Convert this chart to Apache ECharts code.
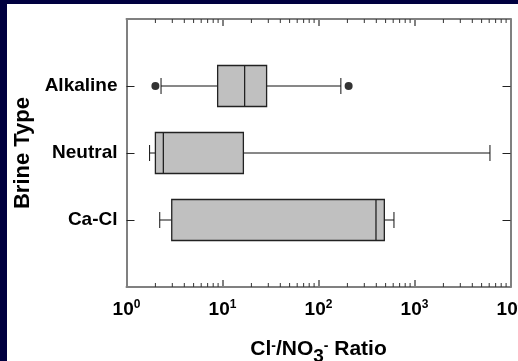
<!DOCTYPE html>
<html>
<head>
<meta charset="utf-8">
<script src="https://cdn.jsdelivr.net/npm/echarts@6/dist/echarts.min.js"></script>
<style>html,body{margin:0;padding:0;background:#00003f;}#c{width:518px;height:361px;}</style>
</head>
<body>
<div id="c"></div>
<script>
// ---- data ----
const categories = ['Alkaline', 'Neutral', 'Ca-Cl'];
const lowWhisker = [2.29, 1.74, 2.22];
const q1 = [8.9, 2.0, 2.96];
const median = [17.0, 2.42, 397];
const q3 = [28.8, 16.5, 485];
const highWhisker = [171, 6110, 611];
const outlierCategories = ['Alkaline', 'Alkaline'];
const outlierValues = [2.0, 206];
const xTickExponents = [0, 1, 2, 3, 4];
const yTitle = 'Brine Type';

// minor tick values (2..9 x 10^k)
const minorTicks = [];
for (let k = xTickExponents[0]; k < xTickExponents[xTickExponents.length - 1]; k++) {
  for (let m = 2; m <= 9; m++) minorTicks.push([m * Math.pow(10, k), 2]);
}

const boxData = categories.map((c, i) => [i + 1, lowWhisker[i], q1[i], median[i], q3[i], highWhisker[i]]);
const outlierData = outlierValues.map((v, i) => [v, categories.indexOf(outlierCategories[i]) + 1]);

const FONT = "'Liberation Sans', Arial, sans-serif";
const AXIS_GRAY = '#808080';

const chart = echarts.init(document.getElementById('c'), null, {renderer: 'canvas'});

const xMin = Math.pow(10, xTickExponents[0]);
const xMax = Math.pow(10, xTickExponents[xTickExponents.length - 1]);

const yBase = {
  type: 'value', min: 0, max: categories.length + 1, interval: 1, inverse: true,
  splitLine: {show: false},
  axisLine: {show: true, lineStyle: {color: AXIS_GRAY, width: 2}},
  axisTick: {show: true, inside: true, length: 8, customValues: categories.map((c, i) => i + 1),
             lineStyle: {color: '#222', width: 1}}
};

chart.setOption({
  backgroundColor: '#00003f',
  animation: false,
  graphic: [{
    type: 'rect', left: 7, top: 4, z: -10, silent: true,
    shape: {width: 520, height: 360},
    style: {fill: '#ffffff'}
  }],
  grid: {left: 126.5, right: 7.5, top: 19, bottom: 74, containLabel: false, outerBoundsMode: 'none'},
  xAxis: [{
    type: 'log', logBase: 10, min: xMin, max: xMax, position: 'bottom',
    splitLine: {show: false},
    axisLine: {show: true, onZero: false, lineStyle: {color: AXIS_GRAY, width: 2}},
    axisTick: {show: true, inside: true, length: 7, lineStyle: {color: AXIS_GRAY, width: 2}},
    axisLabel: {
      margin: 12, showMinLabel: true, showMaxLabel: true, hideOverlap: false,
      formatter: v => '{b|10}{s|' + Math.round(Math.log10(v)) + '}',
      rich: {
        b: {fontFamily: FONT, fontWeight: 'bold', fontSize: 19, color: '#000', lineHeight: 22},
        s: {fontFamily: FONT, fontWeight: 'bold', fontSize: 12, color: '#000', lineHeight: 13, verticalAlign: 'top'}
      }
    },
    name: 'Cl{p|-}/NO{d|3}{p|-} Ratio',
    nameLocation: 'middle', nameGap: 52,
    nameTextStyle: {
      fontFamily: FONT, fontWeight: 'bold', fontSize: 21, color: '#000',
      rich: {
        p: {fontFamily: FONT, fontWeight: 'bold', fontSize: 14, color: '#000', verticalAlign: 'top', lineHeight: 13},
        d: {fontFamily: FONT, fontWeight: 'bold', fontSize: 19, color: '#000', verticalAlign: 'bottom', lineHeight: 16, padding: [0, 0, -6, 0]}
      }
    }
  }, {
    type: 'log', logBase: 10, min: xMin, max: xMax, position: 'top',
    splitLine: {show: false},
    axisLine: {show: true, onZero: false, lineStyle: {color: AXIS_GRAY, width: 2}},
    axisTick: {show: true, inside: true, length: 7, lineStyle: {color: AXIS_GRAY, width: 2}},
    axisLabel: {show: false}
  }],
  yAxis: [Object.assign({}, yBase, {
    position: 'left',
    axisLabel: {
      show: true, margin: 9, customValues: categories.map((c, i) => i + 1),
      formatter: v => categories[v - 1] || '',
      fontFamily: FONT, fontWeight: 'bold', fontSize: 19, color: '#000'
    },
    name: yTitle, nameLocation: 'middle', nameGap: 92, nameRotate: 90,
    nameTextStyle: {fontFamily: FONT, fontWeight: 'bold', fontSize: 22, color: '#000'}
  }), Object.assign({}, yBase, {
    position: 'right', axisLabel: {show: false}
  })],
  series: [{
    type: 'custom', name: 'minor ticks', silent: true, xAxisIndex: 0, yAxisIndex: 0,
    data: minorTicks, encode: {x: 0, y: 1}, clip: false,
    renderItem: (params, api) => {
      const cs = params.coordSys;
      const x = api.coord([api.value(0), 1])[0];
      const style = {stroke: '#333', lineWidth: 1};
      return {type: 'group', children: [
        {type: 'line', shape: {x1: x, y1: cs.y + cs.height, x2: x, y2: cs.y + cs.height - 4}, style},
        {type: 'line', shape: {x1: x, y1: cs.y, x2: x, y2: cs.y + 4}, style}
      ]};
    }
  }, {
    type: 'custom', name: 'box', xAxisIndex: 0, yAxisIndex: 0,
    data: boxData, encode: {y: 0, x: [1, 2, 3, 4, 5]},
    renderItem: (params, api) => {
      const yv = api.value(0);
      const pt = d => api.coord([api.value(d), yv]);
      const pLow = pt(1), pQ1 = pt(2), pMed = pt(3), pQ3 = pt(4), pHigh = pt(5);
      const cy = pLow[1];
      const bh = 41, ch = 16;
      const line = {stroke: '#111', lineWidth: 1};
      return {type: 'group', children: [
        {type: 'line', shape: {x1: pLow[0], y1: cy, x2: pQ1[0], y2: cy}, style: line},
        {type: 'line', shape: {x1: pQ3[0], y1: cy, x2: pHigh[0], y2: cy}, style: line},
        {type: 'line', shape: {x1: pLow[0], y1: cy - ch / 2, x2: pLow[0], y2: cy + ch / 2}, style: line},
        {type: 'line', shape: {x1: pHigh[0], y1: cy - ch / 2, x2: pHigh[0], y2: cy + ch / 2}, style: line},
        {type: 'rect', shape: {x: pQ1[0], y: cy - bh / 2, width: pQ3[0] - pQ1[0], height: bh},
         style: {fill: '#c0c0c0', stroke: '#222', lineWidth: 1.3}},
        {type: 'line', shape: {x1: pMed[0], y1: cy - bh / 2, x2: pMed[0], y2: cy + bh / 2}, style: {stroke: '#222', lineWidth: 1.3}}
      ]};
    }
  }, {
    type: 'scatter', name: 'outliers', xAxisIndex: 0, yAxisIndex: 0,
    data: outlierData, symbol: 'circle', symbolSize: 8,
    itemStyle: {color: '#000'}
  }]
});
</script>
</body>
</html>
